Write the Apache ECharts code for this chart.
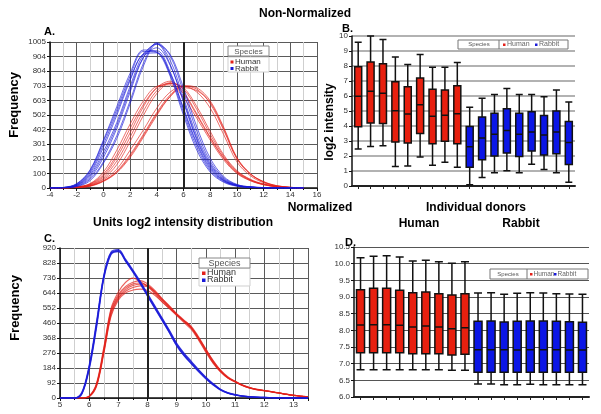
<!DOCTYPE html>
<html><head><meta charset="utf-8">
<script src="https://cdn.jsdelivr.net/npm/echarts@6/dist/echarts.min.js"></script>
<style>html,body{margin:0;padding:0;background:#fff}#c{width:601px;height:414px}</style>
</head><body><div id="c"></div>
<script>
// ---------- Panel A: non-normalized intensity distributions ----------
const xA = [-4,-3,-2,-1,0,1,2,3,4,5,6,7,8,9,10,11,12,13,14,15];
const rabbitA1 = [0,3,20,90,250,450,700,920,990,850,590,330,150,55,18,6,2,0,0,0];
const rabbitA2 = [0,2,15,70,210,410,660,900,995,880,620,360,170,65,20,7,2,0,0,0];
const rabbitA3 = [0,4,30,120,320,540,770,940,935,780,520,280,120,45,14,5,1,0,0,0];
const rabbitA4 = [0,3,25,110,300,520,750,925,945,800,540,300,130,50,16,5,2,0,0,0];
const rabbitA5 = [0,2,12,60,180,360,600,860,1000,910,660,390,185,72,22,8,3,1,0,0];
const rabbitA6 = [0,3,22,100,280,500,740,920,930,790,550,310,140,52,16,5,2,0,0,0];
const rabbitA7 = [0,2,18,80,230,430,680,900,965,845,600,340,160,60,18,6,2,0,0,0];
const rabbitA8 = [0,1,10,50,170,340,580,840,990,920,690,420,205,80,25,8,3,1,0,0];
const rabbitA9 = [0,3,28,125,330,560,790,950,935,770,500,260,110,40,12,4,1,0,0,0];
const humanA1 = [0,1,6,25,85,210,380,560,690,735,660,510,350,210,110,55,24,9,3,0];
const humanA2 = [0,1,5,22,75,185,350,530,670,725,680,540,370,220,115,58,26,10,3,0];
const humanA3 = [0,1,8,30,110,260,440,600,700,710,620,480,330,195,100,50,22,8,2,0];
const humanA4 = [0,1,5,20,65,160,320,500,650,720,690,560,390,230,120,60,28,10,3,0];
const humanA5 = [0,1,7,28,95,230,410,575,690,720,650,500,345,205,105,52,24,9,3,0];
const humanA6 = [0,1,4,15,50,115,230,370,520,640,700,680,580,400,200,95,42,15,5,0];
const humanA7 = [0,1,3,12,45,105,210,350,500,630,705,690,600,420,210,100,42,14,4,0];
const humanA8 = [0,1,4,16,58,130,260,400,550,660,700,660,550,370,180,85,36,12,4,0];
const humanA9 = [0,1,3,14,48,110,220,360,510,630,690,670,590,410,205,98,44,16,5,0];
const yTicksA = [0,100,201,301,402,502,603,703,804,904,1005];

// ---------- Panel C: normalized intensity distributions ----------
const xC = [5,5.25,5.5,5.75,6,6.25,6.5,6.75,7,7.25,7.5,7.75,8,8.25,8.5,8.75,9,9.25,9.5,9.75,10,10.25,10.5,10.75,11,11.25,11.5,11.75,12,12.25,12.5,12.75,13,13.25,13.5];
const rabbitC1 = [0,0,0,30,190,450,740,885,905,845,780,710,635,560,485,410,330,270,220,170,125,85,52,32,20,12,8,5,3,2,1,1,0,0,0];
const rabbitC2 = [0,0,0,25,175,430,730,880,900,840,775,705,628,552,478,402,322,262,212,164,120,82,50,30,19,11,7,4,3,2,1,0,0,0,0];
const rabbitC3 = [0,0,0,35,200,465,750,890,898,838,772,700,625,550,476,400,320,260,210,162,118,80,49,30,18,11,7,4,2,1,1,0,0,0,0];
const rabbitC4 = [0,0,0,28,185,445,745,895,910,850,785,715,640,565,490,415,335,275,225,174,128,88,54,33,21,13,8,5,3,2,1,1,0,0,0];
const humanC1 = [0,0,0,0,10,80,290,530,625,675,700,705,690,650,600,555,510,470,430,365,290,220,165,125,100,78,62,52,45,38,31,23,16,11,7];
const humanC2 = [0,0,0,0,12,90,310,550,650,710,735,715,685,640,590,548,505,462,420,355,280,212,160,122,98,76,60,50,44,37,30,22,15,10,6];
const humanC3 = [0,0,0,0,8,70,270,500,600,645,662,668,660,630,590,550,512,475,440,375,300,228,170,128,102,80,64,53,46,39,32,24,17,12,8];
const humanC4 = [0,0,0,0,10,78,285,520,615,665,690,698,688,655,608,562,515,472,428,360,285,215,162,123,99,77,61,51,45,38,31,23,16,11,7];
const humanC5 = [0,0,0,0,11,85,300,540,635,685,710,720,700,660,610,565,518,478,435,370,295,222,166,126,101,79,63,52,45,38,31,23,16,11,7];
const humanC6 = [0,0,0,0,9,74,278,510,610,655,678,688,682,648,602,558,512,470,430,368,298,230,172,130,104,80,64,53,46,39,32,24,17,12,8];

// ---------- Panels B & D: per-donor box plots ----------
const donors = ['H1','H2','H3','H4','H5','H6','H7','H8','H9','R1','R2','R3','R4','R5','R6','R7','R8','R9'];
const species = ['Human','Human','Human','Human','Human','Human','Human','Human','Human','Rabbit','Rabbit','Rabbit','Rabbit','Rabbit','Rabbit','Rabbit','Rabbit','Rabbit'];
const highB = [9.58,10.0,9.76,8.6,8.1,8.76,7.92,7.92,8.24, 5.25,5.85,6.1,6.5,6.1,6.1,5.95,6.4,5.6];
const q3B   = [7.95,8.27,8.15,6.95,6.62,7.2,6.45,6.4,6.68, 3.97,4.6,4.85,5.15,4.85,4.95,4.7,5.0,4.3];
const medB  = [5.98,6.32,6.18,5.02,4.8,5.42,4.65,4.72,4.82, 2.62,3.2,3.45,3.7,3.45,3.6,3.4,3.6,2.9];
const q1B   = [3.95,4.2,4.16,2.93,2.86,3.5,2.82,2.98,2.82, 1.25,1.75,2.0,2.2,1.97,2.33,2.07,2.15,1.43];
const lowB  = [2.46,2.63,2.68,1.3,1.34,1.93,1.39,1.58,1.25, 0.08,0.56,0.89,1.02,0.89,1.45,1.1,0.89,0.25];
const highD = [10.18,10.22,10.24,10.2,10.08,10.1,10.06,10.01,10.06, 9.12,9.13,9.08,9.11,9.13,9.12,9.1,9.09,9.08];
const q3D   = [9.22,9.26,9.26,9.2,9.13,9.15,9.1,9.06,9.1, 8.27,8.28,8.25,8.27,8.28,8.28,8.27,8.26,8.24];
const medD  = [8.16,8.17,8.17,8.15,8.1,8.13,8.1,8.05,8.08, 7.42,7.42,7.42,7.41,7.42,7.42,7.42,7.41,7.41];
const q1D   = [7.33,7.33,7.33,7.33,7.3,7.3,7.3,7.26,7.28, 6.74,6.74,6.74,6.74,6.74,6.74,6.74,6.74,6.74];
const lowD  = [6.82,6.82,6.82,6.82,6.82,6.82,6.82,6.8,6.8, 6.39,6.39,6.37,6.37,6.38,6.37,6.37,6.37,6.37];

// ---------- styles ----------
const RED = '#e3211a', BLUE = '#1a1ad8';
const BOXRED = '#e8200f', BOXBLUE = '#0b16e6';
const FONT = 'Liberation Sans, Arial, sans-serif';

function pairs(xs, ys){ return xs.map((x,i)=>[x, ys[i]]); }
function lineSeries(xs, ys, color, idx, width, opacity){
  return {type:'line', xAxisIndex:idx, yAxisIndex:idx, data:pairs(xs, ys), smooth:0.35,
    showSymbol:false, silent:true, lineStyle:{color:color, width:width, opacity:opacity}, z:3};
}
function boxData(lo,q1,md,q3,hi){
  return donors.map((d,i)=>({value:[lo[i],q1[i],md[i],q3[i],hi[i]],
    itemStyle:{color: species[i]==='Human'?BOXRED:BOXBLUE}}));
}

const series = [];
const rabbitA = [rabbitA1,rabbitA2,rabbitA3,rabbitA4,rabbitA5,rabbitA6,rabbitA7,rabbitA8,rabbitA9];
const humanA = [humanA1,humanA2,humanA3,humanA4,humanA5,humanA6,humanA7,humanA8,humanA9];
humanA.forEach(c=>series.push(lineSeries(xA,c,RED,0,1,0.65)));
rabbitA.forEach(c=>series.push(lineSeries(xA,c,BLUE,0,1,0.65)));
series[0].markLine = {silent:true, symbol:'none', label:{show:false}, animation:false,
  lineStyle:{color:'#222', width:2, type:'solid', opacity:1}, data:[{xAxis:6}]};

const humanC = [humanC1,humanC2,humanC3,humanC4,humanC5,humanC6];
const rabbitC = [rabbitC1,rabbitC2,rabbitC3,rabbitC4];
humanC.forEach(c=>series.push(lineSeries(xC,c,RED,2,1.1,0.7)));
rabbitC.forEach(c=>series.push(lineSeries(xC,c,BLUE,2,1.3,0.8)));
series[series.length-1].markLine = {silent:true, symbol:'none', label:{show:false}, animation:false,
  lineStyle:{color:'#222', width:2, type:'solid', opacity:1}, data:[{xAxis:8}]};

series.push({type:'boxplot', xAxisIndex:1, yAxisIndex:1, boxWidth:[7,7], silent:true,
  itemStyle:{borderColor:'#111', borderWidth:1.5}, data:boxData(lowB,q1B,medB,q3B,highB), z:3});
series.push({type:'boxplot', xAxisIndex:3, yAxisIndex:3, boxWidth:[8,8], silent:true,
  itemStyle:{borderColor:'#111', borderWidth:1.5}, data:boxData(lowD,q1D,medD,q3D,highD), z:3});

const lbl = {fontSize:8, color:'#333', fontFamily:FONT};

function valueX(idx, min, max, interval, fmt){
  return {type:'value', gridIndex:idx, min:min, max:max, interval:interval,
    axisLine:{onZero:false, lineStyle:{color:'#111', width:1.5}},
    axisTick:{show:true, length:3, lineStyle:{color:'#111'}},
    minorTick:{show:true, splitNumber:2, length:2, lineStyle:{color:'#111'}},
    axisLabel:Object.assign({margin:3, formatter:fmt}, lbl),
    splitLine:{show:true, lineStyle:{color:'#5a5a5a', width:1}},
    minorSplitLine:{show:true, lineStyle:{color:'#cfcfcf', width:1}}};
}
function valueY(idx, min, max, interval, fmt, gridColor, gridWidth){
  return {type:'value', gridIndex:idx, min:min, max:max, interval:interval,
    axisLine:{show:true, onZero:false, lineStyle:{color:'#111', width:1.5}},
    axisTick:{show:true, length:3, lineStyle:{color:'#111'}},
    axisLabel:Object.assign({margin:4, formatter:fmt}, lbl),
    splitLine:{show:true, lineStyle:{color:gridColor, width:gridWidth}}};
}
function catX(idx){
  return {type:'category', gridIndex:idx, data:donors,
    axisLine:{onZero:false, lineStyle:{color:'#222', width:2}},
    axisTick:{show:true, alignWithLabel:true, interval:0, length:3, lineStyle:{color:'#222'}},
    axisLabel:{show:false}, splitLine:{show:false}};
}

function txt(x,y,text,font,opts){
  return Object.assign({type:'text', x:x, y:y, silent:true, z:10,
    style:{text:text, font:font, fill:'#000', textAlign:'center', textVerticalAlign:'middle', align:'center', verticalAlign:'middle'}}, opts||{});
}
function rect(x,y,w,h,stroke,fill){
  return {type:'rect', shape:{x:x,y:y,width:w,height:h}, silent:true, z:9,
    style:{stroke:stroke, fill:fill||'#fff', lineWidth:1}};
}
function sq(x,y,s,color){ return {type:'rect', shape:{x:x,y:y,width:s,height:s}, silent:true, z:11, style:{fill:color}}; }
function ltxt(x,y,text,font,color){
  return {type:'text', x:x, y:y, silent:true, z:11,
    style:{text:text, font:font, fill:color||'#333', textAlign:'left', textVerticalAlign:'middle', align:'left', verticalAlign:'middle'}};
}
function gtxt(x,y,text,font){
  return {type:'text', x:x, y:y, silent:true, z:11,
    style:{text:text, font:font, fill:'#555', textAlign:'center', textVerticalAlign:'middle', align:'center', verticalAlign:'middle'}};
}

const graphics = [
  txt(305,14,'Non-Normalized','bold 12px '+FONT),
  txt(320,208,'Normalized','bold 12px '+FONT),
  txt(476,208,'Individual donors','bold 12px '+FONT),
  txt(419,224,'Human','bold 12px '+FONT),
  txt(521,224,'Rabbit','bold 12px '+FONT),
  txt(183,223,'Units log2 intensity distribution','bold 12px '+FONT),
  txt(14,105,'Frequency','bold 13px '+FONT,{rotation:Math.PI/2}),
  txt(15,308,'Frequency','bold 13px '+FONT,{rotation:Math.PI/2}),
  txt(330,122,'log2 intensity','bold 12px '+FONT,{rotation:Math.PI/2}),
  ltxt(44,32,'A.','bold 11px '+FONT,'#000'),
  ltxt(342,29,'B.','bold 11px '+FONT,'#000'),
  ltxt(44,239,'C.','bold 11px '+FONT,'#000'),
  ltxt(345,243,'D.','bold 11px '+FONT,'#000'),
  // legend A
  rect(228,57,41,15,'#cfcfcf'),
  rect(228,46,41,10,'#888'),
  gtxt(248.5,51.5,'Species','8px '+FONT),
  sq(230.5,60.5,3,RED), ltxt(235,62,'Human','8px '+FONT),
  sq(230.5,67,3,BLUE), ltxt(235,68.5,'Rabbit','8px '+FONT),
  // legend C
  rect(199,268,51,18,'#cfcfcf'),
  rect(199,258,51,10,'#888'),
  gtxt(224.5,263.5,'Species','9px '+FONT),
  sq(202,271.5,3.5,RED), ltxt(207,273,'Human','9px '+FONT),
  sq(202,278.5,3.5,BLUE), ltxt(207,280,'Rabbit','9px '+FONT),
  // legend B
  rect(458,40,110,9,'#777'),
  {type:'line', shape:{x1:499,y1:40,x2:499,y2:49}, z:10, silent:true, style:{stroke:'#777',lineWidth:1}},
  gtxt(479,44.5,'Species','6px '+FONT),
  sq(503,43.5,2.5,RED), ltxt(507,44.5,'Human','7px '+FONT,'#666'),
  sq(535,43.5,2.5,BLUE), ltxt(539,44.5,'Rabbit','7px '+FONT,'#666'),
  // legend D
  rect(490,269,98,10,'#777'),
  {type:'line', shape:{x1:527,y1:269,x2:527,y2:279}, z:10, silent:true, style:{stroke:'#777',lineWidth:1}},
  gtxt(508,274,'Species','6px '+FONT),
  sq(530,273,2.5,RED), ltxt(533.5,274,'Human','6.5px '+FONT,'#666'),
  sq(554,273,2.5,BLUE), ltxt(557.5,274,'Rabbit','6.5px '+FONT,'#666')
];

const chart = echarts.init(document.getElementById('c'), null, {renderer:'canvas'});
chart.setOption({
  animation:false,
  backgroundColor:'#fff',
  grid:[
    {left:50, top:42, width:267, height:146},
    {left:352, top:36, width:223, height:150},
    {left:60, top:248, width:248, height:150},
    {left:354, top:247, width:235, height:150}
  ],
  xAxis:[
    valueX(0,-4,16,2,v=>String(v)),
    catX(1),
    valueX(2,5,13.5,1,v=>Number.isInteger(v)?String(v):''),
    catX(3)
  ],
  yAxis:[
    valueY(0,0,1005,100.5,v=>String(yTicksA[Math.round(v/100.5)]),'#5a5a5a',1),
    valueY(1,0,10,1,v=>String(v),'#999',1.5),
    valueY(2,0,920,92,v=>String(Math.round(v)),'#5a5a5a',1),
    valueY(3,6,10.5,0.5,v=>v.toFixed(1),'#555',1.2)
  ],
  series:series,
  graphic:graphics
});
</script></body></html>
